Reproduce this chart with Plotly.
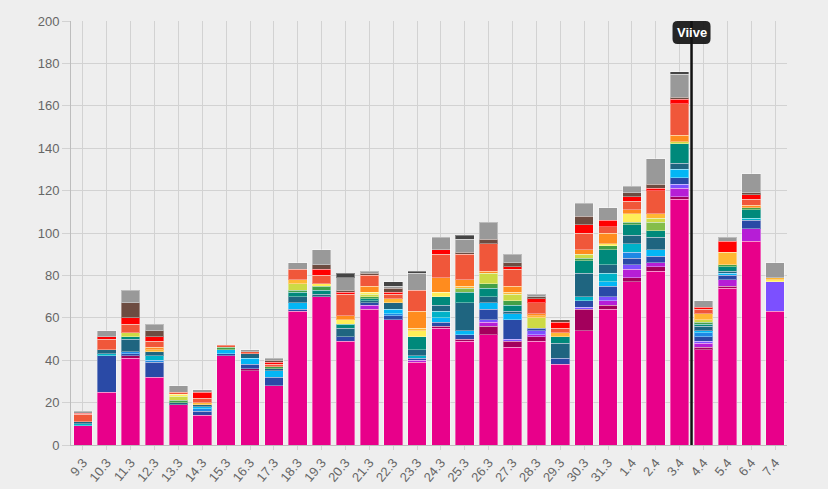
import plotly.graph_objects as go

categories = ["9.3", "10.3", "11.3", "12.3", "13.3", "14.3", "15.3", "16.3", "17.3", "18.3",
              "19.3", "20.3", "21.3", "22.3", "23.3", "24.3", "25.3", "26.3", "27.3", "28.3",
              "29.3", "30.3", "31.3", "1.4", "2.4", "3.4", "4.4", "5.4", "6.4", "7.4"]

pink = [9, 25, 41, 32, 19, 14, 42, 35, 28, 63, 70, 49, 64, 59, 39, 55, 49, 52, 46, 49, 38, 54, 64, 77, 82, 116, 45, 74, 96, 63]
crimson = [0, 0, 1, 0, 0, 0, 0, 1, 0, 0, 0, 0, 0, 0, 0, 1, 1, 4, 3, 2, 0, 10, 2, 2, 2, 1, 1, 1, 0, 0]
purple = [0, 0, 0, 0, 0, 0, 0, 0, 0, 0, 0, 0, 2, 0, 1, 0, 0, 2, 0, 1, 0, 0, 2, 4, 2, 4, 2, 3, 6, 0]
violet = [0, 0, 0, 0, 0, 0, 0, 0, 0, 0, 0, 0, 0, 0, 0, 0, 0, 1, 1, 2, 0, 1, 2, 2, 0, 2, 1, 0, 0, 14]
dark_blue = [0, 17, 1, 7, 0, 2, 1, 2, 4, 1, 0, 2, 1, 2, 1, 2, 2, 5, 9, 1, 3, 3, 5, 3, 3, 3, 2, 2, 4, 0]
blue = [0, 0, 1, 1, 0, 1, 0, 0, 0, 0, 0, 0, 0, 1, 0, 0, 0, 0, 0, 0, 0, 0, 0, 3, 0, 0, 2, 0, 0, 0]
sky = [0, 0, 0, 0, 0, 1, 2, 3, 3, 3, 0, 0, 0, 2, 0, 2, 2, 3, 3, 0, 0, 0, 2, 0, 3, 4, 1, 1, 0, 0]
cyan = [1, 1, 0, 2, 0, 0, 0, 0, 0, 0, 0, 0, 0, 0, 1, 3, 0, 0, 0, 0, 0, 2, 4, 4, 0, 0, 0, 0, 1, 0]
slate = [1, 2, 6, 2, 1, 1, 0, 2, 1, 3, 1, 4, 1, 3, 3, 3, 13, 3, 1, 0, 7, 11, 4, 4, 6, 3, 2, 1, 0, 0]
teal = [0, 0, 1, 0, 0, 0, 0, 0, 0, 2, 2, 2, 1, 0, 6, 4, 5, 4, 3, 0, 3, 6, 7, 5, 3, 9, 1, 2, 4, 0]
green = [0, 0, 0, 0, 1, 0, 1, 0, 1, 1, 2, 0, 1, 0, 0, 0, 0, 2, 2, 0, 0, 1, 2, 1, 0, 0, 1, 1, 1, 0]
light_green = [0, 0, 0, 0, 0, 0, 0, 0, 0, 0, 0, 0, 0, 0, 0, 0, 2, 0, 0, 0, 0, 0, 0, 0, 4, 0, 0, 0, 0, 0]
lime = [0, 0, 2, 0, 2, 0, 0, 0, 0, 3, 0, 0, 1, 0, 0, 0, 0, 5, 3, 5, 0, 2, 0, 0, 2, 1, 1, 0, 0, 0]
yellow = [0, 0, 0, 0, 1, 0, 0, 0, 0, 0, 1, 2, 1, 0, 3, 2, 0, 0, 0, 0, 0, 0, 1, 4, 0, 0, 0, 0, 0, 1]
amber = [0, 0, 0, 1, 0, 1, 0, 0, 0, 2, 0, 0, 0, 2, 1, 0, 1, 0, 1, 1, 2, 0, 0, 0, 2, 0, 3, 6, 0, 1]
orange = [0, 0, 0, 1, 0, 0, 0, 0, 0, 0, 0, 2, 3, 0, 8, 7, 3, 1, 3, 1, 0, 2, 5, 2, 0, 3, 0, 0, 1, 0]
coral = [3.5, 5, 4, 3, 1, 2, 1, 1, 1, 5, 4, 10, 5, 2, 10, 11, 12, 13, 8, 5, 2, 8, 3, 4, 11, 15, 2, 0, 3, 0]
red = [0.5, 1, 3, 2, 0, 3, 0, 0, 1, 0, 3, 1, 0, 1, 0, 2, 0, 0, 1, 2, 3, 4, 3, 2, 1, 2, 1, 5, 2, 0]
brown = [0, 0, 7, 3, 0, 0, 0, 0, 1, 0, 2, 1, 1, 2, 0, 0, 1, 2, 2, 1, 1, 4, 0, 2, 2, 1, 0, 0, 1, 0]
gray = [1, 3, 6, 3, 3, 1, 0, 1, 1, 3, 7, 6, 1, 1, 8, 6, 6, 8, 4, 1, 0, 6, 6, 3, 12, 11, 3, 2, 9, 7]
dark_gray = [0, 0, 0, 0, 0, 0, 0, 0, 0, 0, 0, 2, 0, 2, 1, 0, 2, 0, 0, 0, 0, 0, 0, 0, 0, 1, 0, 0, 0, 0]

series = [
    (pink, "#e8008a"), (crimson, "#a3005c"), (purple, "#b61ed6"), (violet, "#7c50ff"),
    (dark_blue, "#2a4aa6"), (blue, "#1e88e5"), (sky, "#03b6f5"), (cyan, "#00b2c8"),
    (slate, "#1f6580"), (teal, "#00897b"), (green, "#43a047"), (light_green, "#84bd4a"),
    (lime, "#cdda45"), (yellow, "#ffee58"), (amber, "#ffb733"), (orange, "#ff8c1e"),
    (coral, "#f0573a"), (red, "#ff0000"), (brown, "#6d4c41"), (gray, "#999999"),
    (dark_gray, "#444444"),
]

fig = go.Figure()
for vals, col in series:
    fig.add_trace(go.Bar(
        x=categories, y=[v if v else None for v in vals],
        marker=dict(color=col, line=dict(color="rgba(255,255,255,0.35)", width=1)),
        showlegend=False, hoverinfo="skip",
    ))

fig.update_layout(
    barmode="stack", bargap=0.22,
    width=828, height=489,
    margin=dict(l=71, r=41, t=21, b=44),
    paper_bgcolor="#eeeeee", plot_bgcolor="#eeeeee",
    font=dict(family="Liberation Sans, Arial, sans-serif", size=12, color="#666666"),
)
fig.update_xaxes(
    type="category", tickangle=-50, showgrid=True, gridcolor="#d2d2d2", gridwidth=1,
    showline=True, linecolor="#bdbdbd", ticks="outside", ticklen=4, tickcolor="#d2d2d2",
    tickfont=dict(size=13, color="#666666"), automargin=False,
)
fig.update_yaxes(
    range=[0, 200], dtick=20, showgrid=True, gridcolor="#d2d2d2", gridwidth=1,
    showline=True, linecolor="#bdbdbd", ticks="outside", ticklen=8, tickcolor="#d2d2d2",
    zeroline=False, tickfont=dict(size=13, color="#666666"), automargin=False,
)

# vertical marker line between 3.4 and 4.4
fig.add_shape(type="line", xref="x", yref="paper", x0=25.5, x1=25.5, y0=0, y1=1,
              line=dict(color="#111111", width=2.5))
# rounded label box
w, h, r = 19, 23, 5
path = (f"M {-w + r},0 L {w - r},0 Q {w},0 {w},{-r} L {w},{-h + r} Q {w},{-h} {w - r},{-h} "
        f"L {-w + r},{-h} Q {-w},{-h} {-w},{-h + r} L {-w},{-r} Q {-w},0 {-w + r},0 Z")
fig.add_shape(type="path", xref="x", yref="y", xsizemode="pixel", ysizemode="pixel",
              xanchor=25.5, yanchor=200, path=path,
              fillcolor="rgba(20,20,20,0.92)", line=dict(width=0))
fig.add_annotation(x=25.5, xref="x", y=200, yref="y", yshift=-11.5, text="<b>Viive</b>",
                   showarrow=False, font=dict(color="white", size=13,
                                              family="Liberation Sans, Arial, sans-serif"))

fig.write_html("out.html", config={"displayModeBar": False},
               post_script="document.body.style.margin='0';document.body.style.overflow='hidden';")
